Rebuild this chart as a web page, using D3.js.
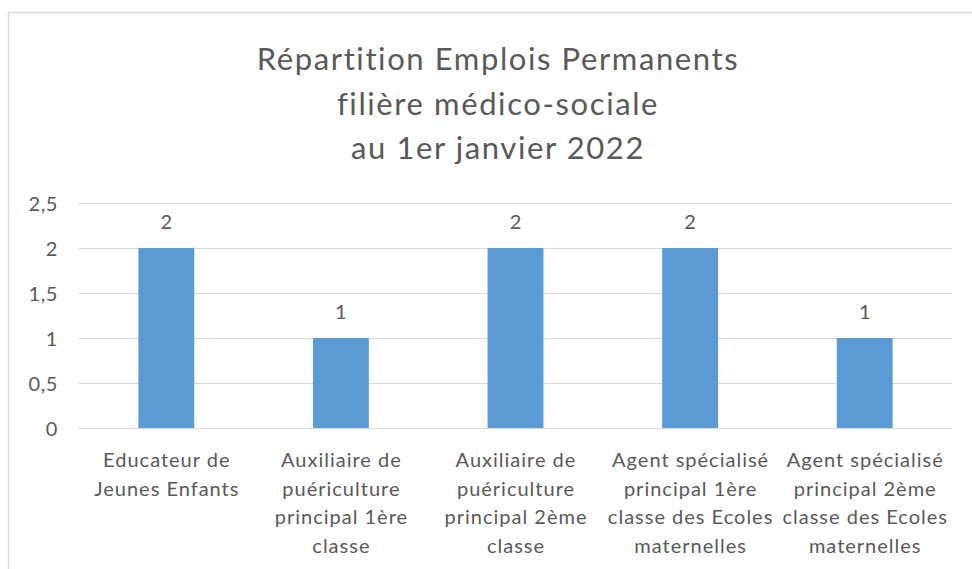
<!DOCTYPE html>
<html><head><meta charset="utf-8">
<script src="https://cdn.jsdelivr.net/npm/d3@7"></script>
<style>body{margin:0;background:#fff;} svg{display:block;} text{font-family:Lato, "Open Sans", sans-serif;fill:#595959;font-variant-ligatures:none;}</style>
</head><body>
<svg id="c" width="972" height="569"></svg>
<script>
const categories = [
  ["Educateur de","Jeunes Enfants"],
  ["Auxiliaire de","puériculture","principal 1ère","classe"],
  ["Auxiliaire de","puériculture","principal 2ème","classe"],
  ["Agent spécialisé","principal 1ère","classe des Ecoles","maternelles"],
  ["Agent spécialisé","principal 2ème","classe des Ecoles","maternelles"]
];
const values = [2, 1, 2, 2, 1];
const yTicks = [0, 0.5, 1, 1.5, 2, 2.5];
const titleLines = ["Répartition Emplois Permanents","filière médico-sociale","au 1er janvier 2022"];

(function(){
const svg = d3.select("#c");
svg.append("rect").attr("x",8.5).attr("y",12.5).attr("width",1000).attr("height",600)
  .attr("fill","none").attr("stroke","#d9d9d9").attr("stroke-width",1.5);

const pL=79, pR=952, pT=203, pB=428;
const x = d3.scaleBand().domain(d3.range(categories.length)).range([pL,pR]).paddingInner(0.68).paddingOuter(0.34);
const y = d3.scaleLinear().domain([0,2.5]).range([pB,pT]);
const fmt = d => String(d).replace(".", ",");

svg.append("g").selectAll("line").data(yTicks).join("line")
  .attr("x1",pL).attr("x2",pR)
  .attr("y1",d=>Math.round(y(d))+0.5).attr("y2",d=>Math.round(y(d))+0.5)
  .attr("stroke","#d9d9d9").attr("stroke-width",1);

const yAxis = d3.axisLeft(y).tickValues(yTicks).tickFormat(fmt).tickSize(0).tickPadding(0);
const ga = svg.append("g").attr("transform",`translate(58,0)`).call(yAxis);
ga.select(".domain").remove();
ga.selectAll("text").style("font-family","Lato, sans-serif").style("font-size","20px")
  .style("letter-spacing","0.6px").attr("fill","#595959").attr("dy","0.35em");

svg.append("g").selectAll("rect").data(values).join("rect")
  .attr("x",(d,i)=>x(i)).attr("width",x.bandwidth())
  .attr("y",d=>y(d)).attr("height",d=>y(0)-y(d))
  .attr("fill","#5b9bd5");

svg.append("g").selectAll("text").data(values).join("text")
  .attr("x",(d,i)=>x(i)+x.bandwidth()/2).attr("y",d=>y(d)-19)
  .attr("text-anchor","middle").style("font-size","20px").text(d=>fmt(d));

const cg = svg.append("g").selectAll("text").data(categories).join("text")
  .attr("text-anchor","middle").style("font-size","20px").style("letter-spacing","1px")
  .attr("transform",(d,i)=>`translate(${x(i)+x.bandwidth()/2+0.5},0)`);
cg.selectAll("tspan").data(d=>d).join("tspan")
  .attr("x",0).attr("y",(d,j)=>467+j*28.7).text(d=>d);

svg.append("g").selectAll("text").data(titleLines).join("text")
  .attr("x",498).attr("y",(d,i)=>70+i*44.5).attr("text-anchor","middle")
  .style("font-size","31px").style("letter-spacing","1.6px").text(d=>d);
})();
</script>
</body></html>
